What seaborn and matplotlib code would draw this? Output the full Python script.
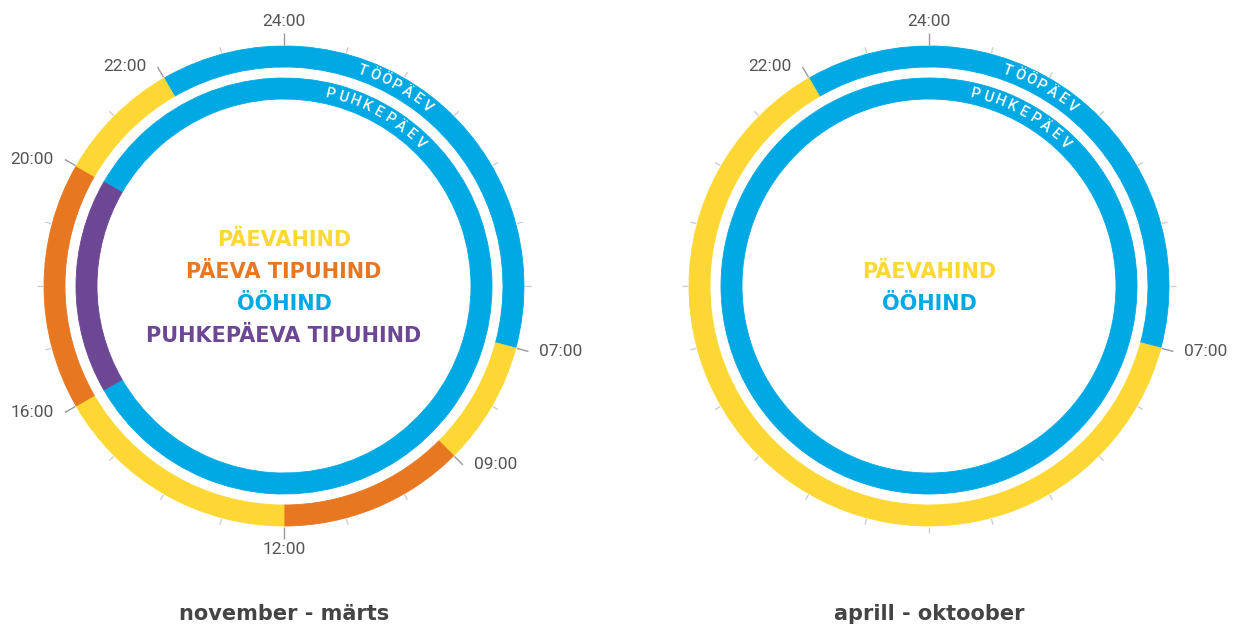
import numpy as np
import matplotlib
matplotlib.use("Agg")
import matplotlib.pyplot as plt
import seaborn as sns

sns.set_theme(style="white")
plt.rcParams["font.family"] = ["Roboto", "DejaVu Sans"]

# Tariff colours
tariff_colors = {
    "päev": "#FDD835",
    "tipp": "#E87722",
    "öö": "#00A9E3",
    "puhke_tipp": "#6B4794",
}

# November - March: workday (outer ring) and day off (inner ring)
winter_work_start = [22, 7, 9, 12, 16, 20]
winter_work_hours = [9, 2, 3, 4, 4, 2]
winter_work_tariff = ["öö", "päev", "tipp", "päev", "tipp", "päev"]
winter_rest_start = [20, 16]
winter_rest_hours = [20, 4]
winter_rest_tariff = ["öö", "puhke_tipp"]

# April - October
summer_work_start = [22, 7]
summer_work_hours = [9, 15]
summer_work_tariff = ["öö", "päev"]
summer_rest_start = [0]
summer_rest_hours = [24]
summer_rest_tariff = ["öö"]

winter_hour_labels = [24, 22, 20, 16, 12, 9, 7]
summer_hour_labels = [24, 22, 7]

winter_legend = ["PÄEVAHIND", "PÄEVA TIPUHIND", "ÖÖHIND", "PUHKEPÄEVA TIPUHIND"]
winter_legend_keys = ["päev", "tipp", "öö", "puhke_tipp"]
summer_legend = ["PÄEVAHIND", "ÖÖHIND"]
summer_legend_keys = ["päev", "öö"]

titles = ["november - märts", "aprill - oktoober"]
ring_names = ["TÖÖPÄEV", "PUHKEPÄEV"]

W, H = 1246, 628
fig = plt.figure(figsize=(W / 100, H / 100), dpi=100)
fig.patch.set_facecolor("white")

R_AX = 280  # axes radius in pixels (1 data unit = 1 pixel)
OUTER = (219, 21)
INNER = (187, 21)
BOLD_FONT = ["DejaVu Sans"]


def hour_to_theta(h):
    return np.asarray(h, dtype=float) * 2 * np.pi / 24


def ring(ax, starts, hours, tariffs, bottom, height):
    ax.bar(hour_to_theta(starts), height, width=hour_to_theta(hours),
           bottom=bottom, align="edge",
           color=[tariff_colors[t] for t in tariffs],
           edgecolor=[tariff_colors[t] for t in tariffs], linewidth=0.6)


def arc_text(ax, text, start_deg, step_deg, radius):
    for i, ch in enumerate(text):
        ang = start_deg + i * step_deg
        ax.text(np.deg2rad(ang), radius, ch, rotation=-ang,
                rotation_mode="anchor", ha="center", va="center",
                color="white", fontsize=10.5, fontweight="medium")


def clock(cx, cy, panel):
    ax = fig.add_axes([(cx - R_AX) / W, (H - cy - R_AX) / H,
                       2 * R_AX / W, 2 * R_AX / H], projection="polar")
    ax.set_theta_zero_location("N")
    ax.set_theta_direction(-1)
    ax.set_ylim(0, R_AX)
    ax.set_axis_off()

    if panel == 0:
        ring(ax, winter_work_start, winter_work_hours, winter_work_tariff, *OUTER)
        ring(ax, winter_rest_start, winter_rest_hours, winter_rest_tariff, *INNER)
        labels = winter_hour_labels
        legend, keys = winter_legend, winter_legend_keys
    else:
        ring(ax, summer_work_start, summer_work_hours, summer_work_tariff, *OUTER)
        ring(ax, summer_rest_start, summer_rest_hours, summer_rest_tariff, *INNER)
        labels = summer_hour_labels
        legend, keys = summer_legend, summer_legend_keys

    tick_end = 253
    for h in range(24):
        th = hour_to_theta(h)
        lab = (h if h else 24) in labels
        r1 = tick_end if lab else 247
        ax.plot([th, th], [241, r1], color="#9a9a9a" if lab else "#cfcfcf",
                lw=1.0, solid_capstyle="butt")

    for h in labels:
        th = float(hour_to_theta(h % 24))
        s, c = np.sin(th), np.cos(th)
        if abs(s) < 0.1:
            ha, dx, dy = "center", 0, 11 * np.sign(c)
        else:
            ha, dx, dy = ("left" if s > 0 else "right"), 11 * np.sign(s), 0
        ax.annotate(f"{h:02d}:00", xy=(th, tick_end), xytext=(dx, dy),
                    textcoords="offset pixels", ha=ha, va="center",
                    fontsize=12.5, color="#555555")

    arc_text(ax, ring_names[0], 20.0, 3.1, OUTER[0] + OUTER[1] / 2)
    arc_text(ax, ring_names[1], 13.5, 3.76, INNER[0] + INNER[1] / 2)

    n = len(legend)
    first = cy - (n - 1) * 32 / 2
    for i, (txt, k) in enumerate(zip(legend, keys)):
        y = first + i * 32 + 7.5
        fig.text(cx / W, 1 - y / H, txt, ha="center", va="baseline",
                 fontsize=15, fontweight="bold", color=tariff_colors[k],
                 family=BOLD_FONT)

    fig.text(cx / W, 1 - 614 / H, titles[panel], ha="center", va="center",
             fontsize=15, fontweight="bold", color="#444444",
             family=BOLD_FONT)


clock(284, 286, 0)
clock(929, 286, 1)

fig.savefig("out.png", dpi=100, facecolor="white")
